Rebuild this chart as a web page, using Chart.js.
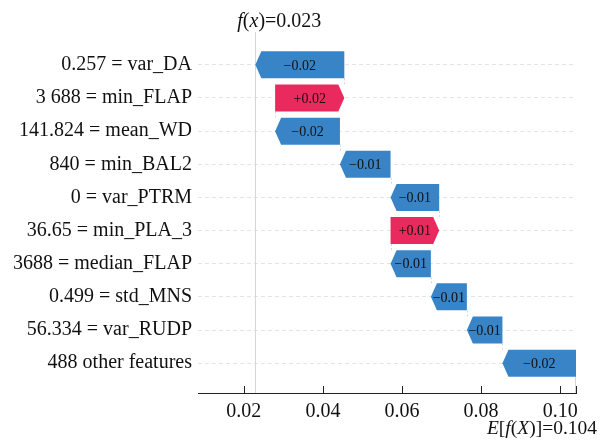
<!DOCTYPE html>
<html>
<head>
<meta charset="utf-8">
<script src="https://cdn.jsdelivr.net/npm/chart.js@4.4.1/dist/chart.umd.min.js"></script>
<style>
  body { margin: 0; background: #fff; }
</style>
</head>
<body>
<canvas id="chart" width="612" height="442"></canvas>
<script>
// feature rows, top to bottom
const featureValues = ["0.257", "3 688", "141.824", "840", "0", "36.65", "3688", "0.499", "56.334", "488"];
const featureNames = ["var_DA", "min_FLAP", "mean_WD", "min_BAL2", "var_PTRM", "min_PLA_3", "median_FLAP", "std_MNS", "var_RUDP", "other features"];
const shapValues = [-0.0225, 0.0175, -0.0164, -0.0128, -0.0123, 0.0123, -0.0102, -0.0091, -0.009, -0.0186];
const baseValue = 0.104;
const xTicks = [0.02, 0.04, 0.06, 0.08, 0.10];

const BLUE = "#3884c6";
const RED = "#ea2a5e";
const FONT = "'Liberation Serif', 'Times New Roman', serif";

const rowLabels = featureNames.map((n, i) =>
  i === featureNames.length - 1 ? featureValues[i] + " " + n : featureValues[i] + " = " + n);

// waterfall: accumulate from the base value at the bottom upward
const spans = [];
let cur = baseValue;
for (let i = shapValues.length - 1; i >= 0; i--) {
  spans[i] = [cur, cur + shapValues[i]];
  cur += shapValues[i];
}
const fx = cur;

function fmt(v) {
  const s = Math.abs(v).toFixed(2);
  return (v < 0 ? "\u2212" : "+") + s;
}

// draw text made of plain/italic pieces
function drawParts(ctx, parts, x, y, size, align) {
  let w = 0;
  parts.forEach(p => { ctx.font = (p[1] ? "italic " : "") + size + "px " + FONT; w += ctx.measureText(p[0]).width; });
  let sx = align === "right" ? x - w : align === "center" ? x - w / 2 : x;
  ctx.textAlign = "left";
  parts.forEach(p => {
    ctx.font = (p[1] ? "italic " : "") + size + "px " + FONT;
    ctx.fillText(p[0], sx, y);
    sx += ctx.measureText(p[0]).width;
  });
}

const waterfall = {
  id: "waterfall",
  beforeDatasetsDraw(chart) {
    const ctx = chart.ctx;
    const xs = chart.scales.x;
    const area = chart.chartArea;
    const meta = chart.getDatasetMeta(0);
    ctx.save();
    ctx.strokeStyle = "#d6d6d6";
    ctx.lineWidth = 1;
    // f(x) line
    const fxPix = Math.round(xs.getPixelForValue(fx)) + 0.5;
    ctx.beginPath();
    ctx.moveTo(fxPix, area.top - 3);
    ctx.lineTo(fxPix, area.bottom);
    ctx.stroke();
    // E[f(X)] line
    const last = meta.data[meta.data.length - 1];
    const ePix = Math.round(xs.getPixelForValue(baseValue)) - 0.5;
    ctx.beginPath();
    ctx.moveTo(ePix, last.y + last.height / 2);
    ctx.lineTo(ePix, area.bottom);
    ctx.stroke();
    // connectors between rows
    ctx.setLineDash([2, 2]);
    for (let i = 0; i < meta.data.length - 1; i++) {
      const a = meta.data[i], b = meta.data[i + 1];
      const px = Math.round(xs.getPixelForValue(spans[i][0])) + 0.5;
      ctx.beginPath();
      ctx.moveTo(px, a.y + a.height / 2);
      ctx.lineTo(px, b.y - b.height / 2);
      ctx.stroke();
    }
    ctx.restore();
  },
  afterDatasetsDraw(chart) {
    const ctx = chart.ctx;
    const xs = chart.scales.x;
    const meta = chart.getDatasetMeta(0);
    ctx.save();
    meta.data.forEach((bar, i) => {
      const xs0 = xs.getPixelForValue(spans[i][0]);
      const xe = xs.getPixelForValue(spans[i][1]);
      const top = bar.y - bar.height / 2, bot = bar.y + bar.height / 2;
      const head = Math.min(6, Math.abs(xe - xs0));
      ctx.beginPath();
      if (xe < xs0) {
        ctx.moveTo(xe + head, top);
        ctx.lineTo(xs0, top);
        ctx.lineTo(xs0, bot);
        ctx.lineTo(xe + head, bot);
        ctx.lineTo(xe, bar.y);
      } else {
        ctx.moveTo(xs0, top);
        ctx.lineTo(xe - head, top);
        ctx.lineTo(xe, bar.y);
        ctx.lineTo(xe - head, bot);
        ctx.lineTo(xs0, bot);
      }
      ctx.closePath();
      ctx.fillStyle = shapValues[i] < 0 ? BLUE : RED;
      ctx.fill();
      ctx.fillStyle = "#111";
      ctx.font = "14px " + FONT;
      ctx.textAlign = "center";
      ctx.textBaseline = "middle";
      ctx.fillText(fmt(shapValues[i]), (xs0 + xe) / 2, bar.y + 1);
    });
    ctx.restore();
  },
  afterDraw(chart) {
    const ctx = chart.ctx;
    const xs = chart.scales.x;
    const area = chart.chartArea;
    ctx.save();
    // inward tick marks
    ctx.strokeStyle = "#222";
    ctx.lineWidth = 1;
    xTicks.concat([baseValue]).forEach(v => {
      const px = Math.round(xs.getPixelForValue(v)) + 0.5;
      ctx.beginPath();
      ctx.moveTo(px, area.bottom);
      ctx.lineTo(px, area.bottom - 7);
      ctx.stroke();
    });
    ctx.fillStyle = "#111";
    ctx.textBaseline = "alphabetic";
    drawParts(ctx, [["f", true], ["(", false], ["x", true], [")=" + fx.toFixed(3), false]],
      xs.getPixelForValue(fx) + 24, 27, 20, "center");
    drawParts(ctx, [["E", true], ["[", false], ["f", true], ["(", false], ["X", true], [")]=" + baseValue.toFixed(3), false]],
      597, 434, 19.5, "right");
    ctx.restore();
  }
};

new Chart(document.getElementById("chart"), {
  type: "bar",
  data: {
    datasets: [{
      data: spans.map((s, i) => ({ x: s, y: i })),
      backgroundColor: "rgba(0,0,0,0)",
      borderWidth: 0,
      barThickness: 27
    }]
  },
  options: {
    indexAxis: "y",
    responsive: false,
    animation: false,
    devicePixelRatio: 1,
    layout: { padding: { top: 35, right: 36, left: 0, bottom: 0 } },
    plugins: { legend: { display: false }, tooltip: { enabled: false } },
    scales: {
      x: {
        type: "linear",
        min: 0.0084,
        max: 0.104,
        afterBuildTicks: s => { s.ticks = xTicks.map(v => ({ value: v })); },
        afterFit: s => { s.height = 49; },
        grid: { display: false, drawTicks: false },
        border: { display: true, color: "#222", width: 1 },
        ticks: {
          padding: 7,
          color: "#111",
          font: { family: FONT, size: 20 },
          callback: v => v.toFixed(2)
        }
      },
      y: {
        type: "linear",
        reverse: true,
        offset: false,
        min: -0.9,
        max: 9.9,
        afterBuildTicks: s => { s.ticks = rowLabels.map((_, i) => ({ value: i })); },
        afterFit: s => { s.width = 198; },
        grid: { display: true, offset: false, drawTicks: false, color: "#e4e4e4", lineWidth: 1 },
        border: { display: false, dash: [4, 3] },
        ticks: {
          padding: 6,
          color: "#111",
          font: { family: FONT, size: 20 },
          callback: v => rowLabels[v]
        }
      }
    }
  },
  plugins: [waterfall]
});
</script>
</body>
</html>
